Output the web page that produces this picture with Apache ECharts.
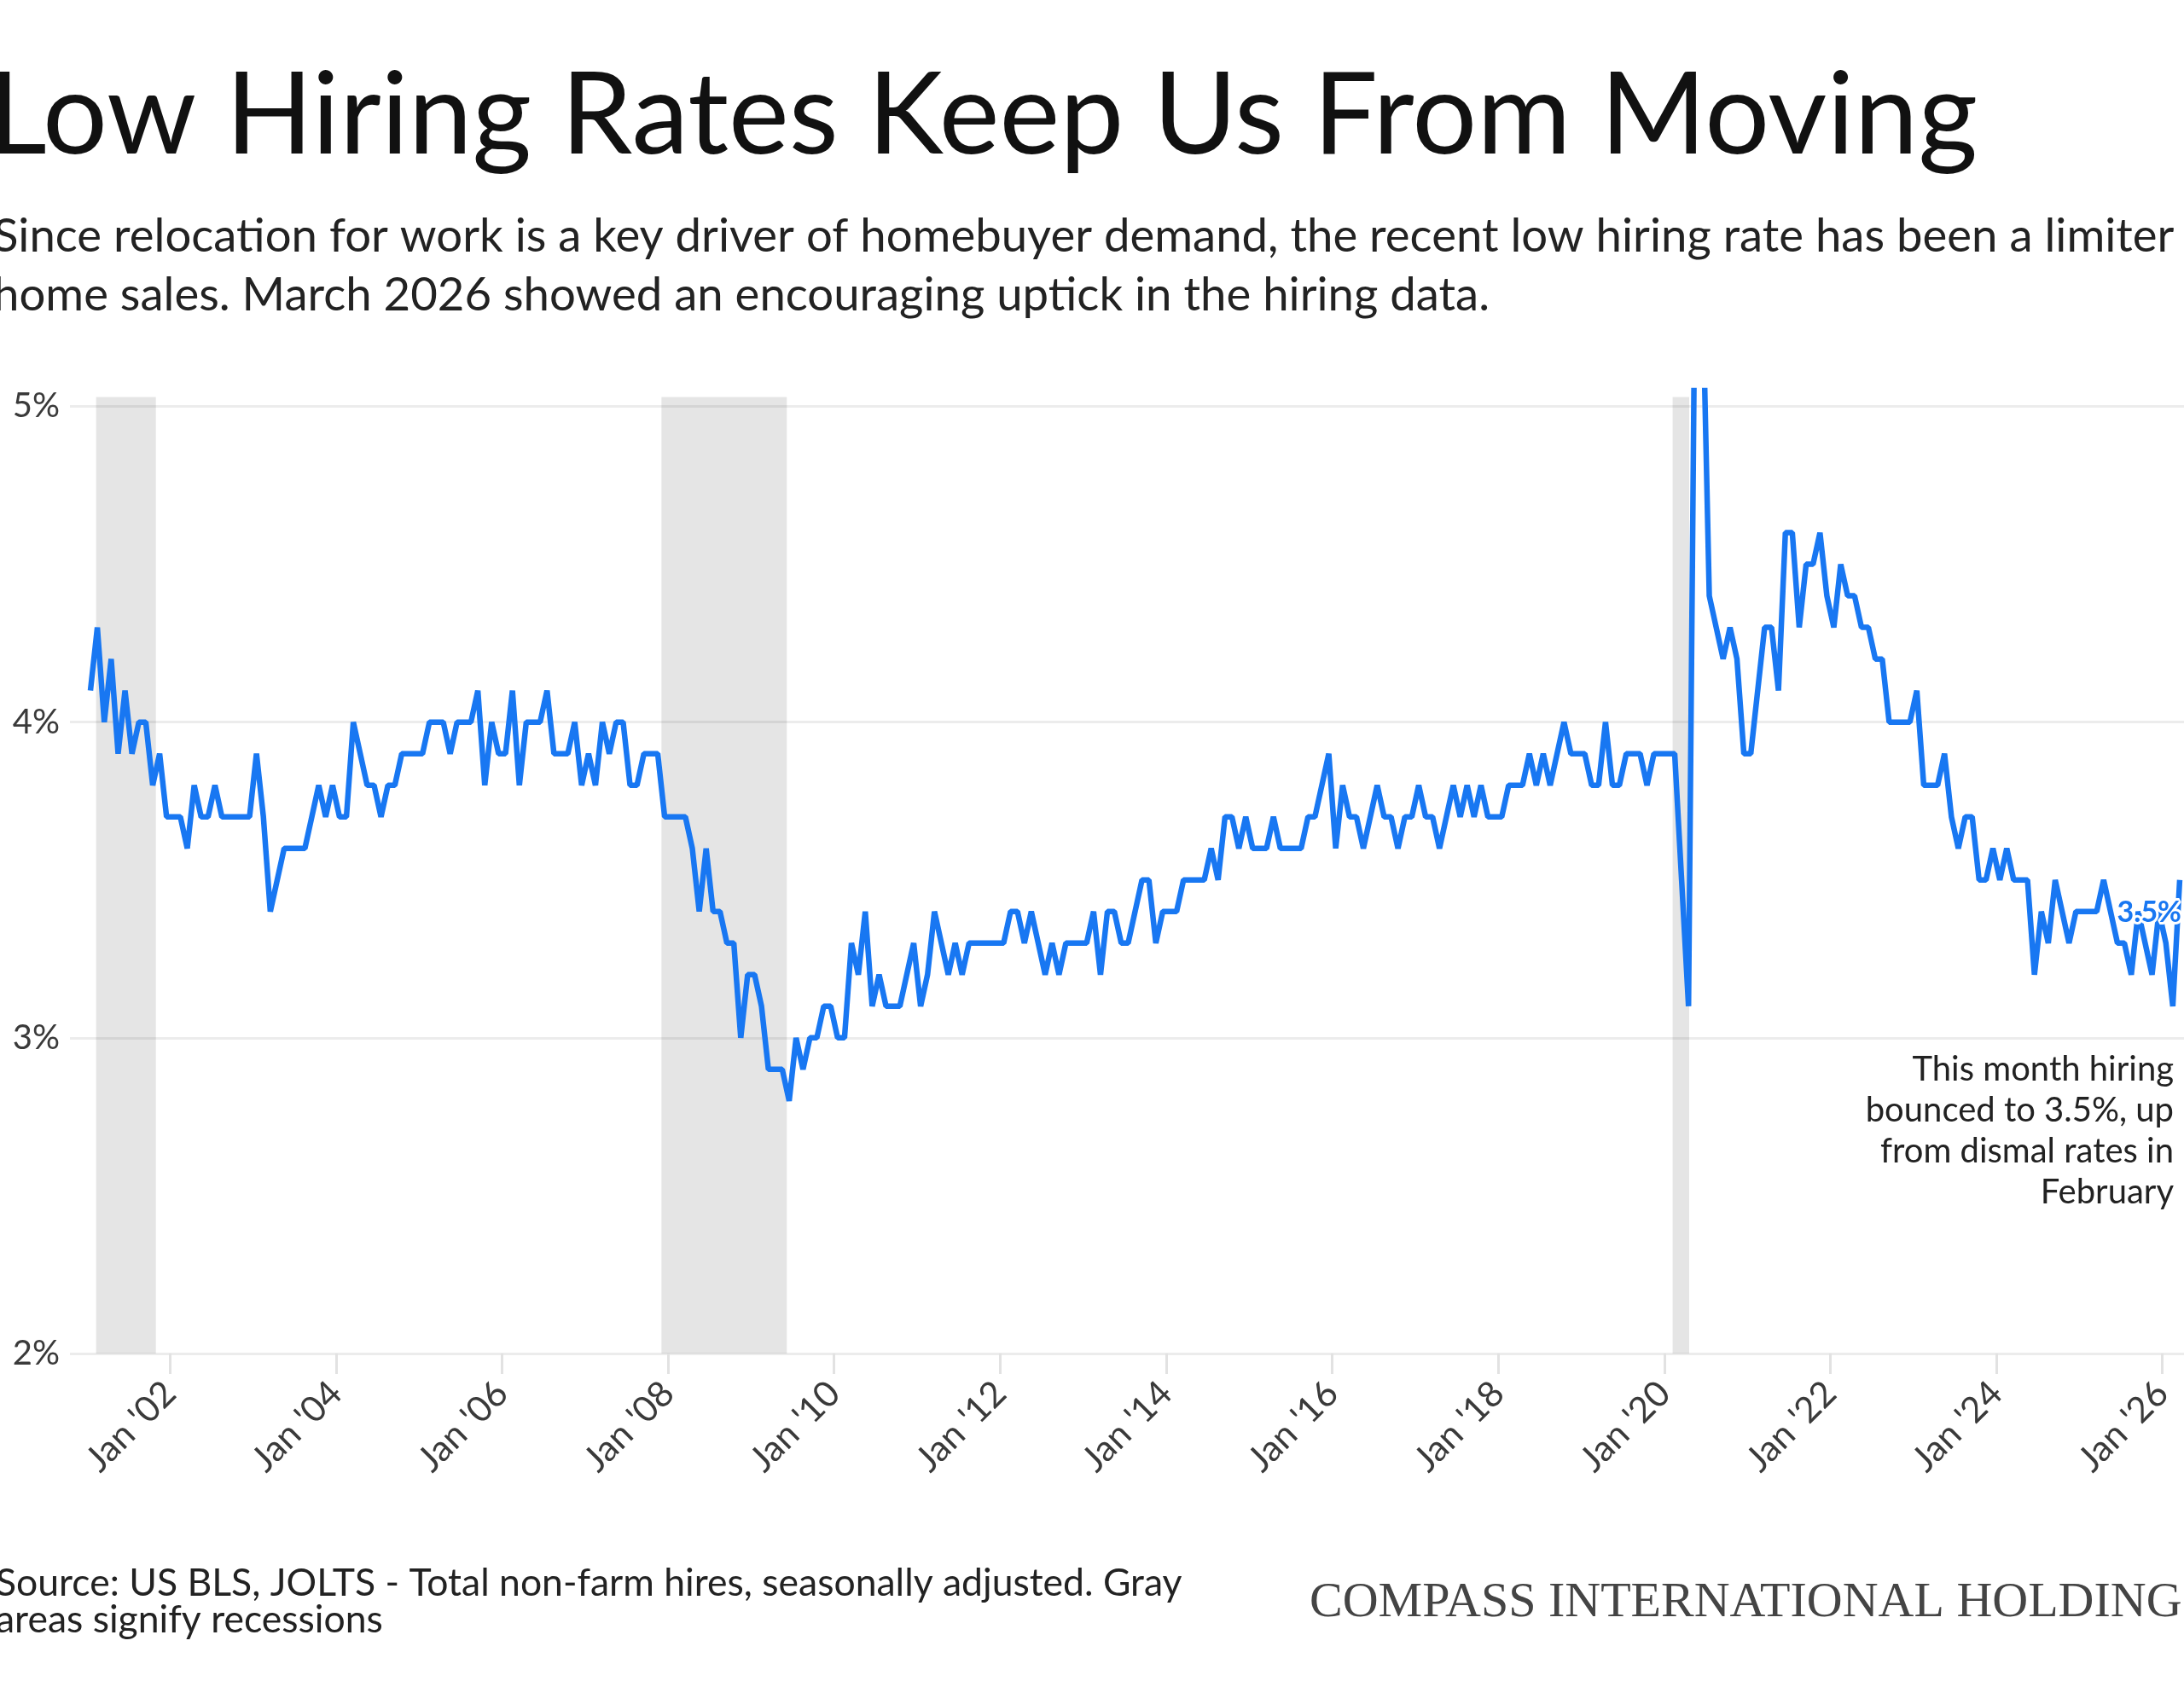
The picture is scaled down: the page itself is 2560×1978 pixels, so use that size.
<!DOCTYPE html>
<html>
<head>
<meta charset="utf-8">
<title>Low Hiring Rates Keep Us From Moving</title>
<script src="https://cdn.jsdelivr.net/npm/echarts@6/dist/echarts.min.js"></script>
<style>
  html, body { margin: 0; padding: 0; background: #fff; }
  #main { width: 2560px; height: 1978px; }
</style>
</head>
<body>
<div id="main"></div>
<script>
// JOLTS total non-farm hires rate (%), one row per year, Jan..Dec
const firstYear = 2001;
const hiresRate = [
  [4.1, 4.3, 4.0, 4.2, 3.9, 4.1, 3.9, 4.0, 4.0, 3.8, 3.9, 3.7], // 2001
  [3.7, 3.7, 3.6, 3.8, 3.7, 3.7, 3.8, 3.7, 3.7, 3.7, 3.7, 3.7], // 2002
  [3.9, 3.7, 3.4, 3.5, 3.6, 3.6, 3.6, 3.6, 3.7, 3.8, 3.7, 3.8], // 2003
  [3.7, 3.7, 4.0, 3.9, 3.8, 3.8, 3.7, 3.8, 3.8, 3.9, 3.9, 3.9], // 2004
  [3.9, 4.0, 4.0, 4.0, 3.9, 4.0, 4.0, 4.0, 4.1, 3.8, 4.0, 3.9], // 2005
  [3.9, 4.1, 3.8, 4.0, 4.0, 4.0, 4.1, 3.9, 3.9, 3.9, 4.0, 3.8], // 2006
  [3.9, 3.8, 4.0, 3.9, 4.0, 4.0, 3.8, 3.8, 3.9, 3.9, 3.9, 3.7], // 2007
  [3.7, 3.7, 3.7, 3.6, 3.4, 3.6, 3.4, 3.4, 3.3, 3.3, 3.0, 3.2], // 2008
  [3.2, 3.1, 2.9, 2.9, 2.9, 2.8, 3.0, 2.9, 3.0, 3.0, 3.1, 3.1], // 2009
  [3.0, 3.0, 3.3, 3.2, 3.4, 3.1, 3.2, 3.1, 3.1, 3.1, 3.2, 3.3], // 2010
  [3.1, 3.2, 3.4, 3.3, 3.2, 3.3, 3.2, 3.3, 3.3, 3.3, 3.3, 3.3], // 2011
  [3.3, 3.4, 3.4, 3.3, 3.4, 3.3, 3.2, 3.3, 3.2, 3.3, 3.3, 3.3], // 2012
  [3.3, 3.4, 3.2, 3.4, 3.4, 3.3, 3.3, 3.4, 3.5, 3.5, 3.3, 3.4], // 2013
  [3.4, 3.4, 3.5, 3.5, 3.5, 3.5, 3.6, 3.5, 3.7, 3.7, 3.6, 3.7], // 2014
  [3.6, 3.6, 3.6, 3.7, 3.6, 3.6, 3.6, 3.6, 3.7, 3.7, 3.8, 3.9], // 2015
  [3.6, 3.8, 3.7, 3.7, 3.6, 3.7, 3.8, 3.7, 3.7, 3.6, 3.7, 3.7], // 2016
  [3.8, 3.7, 3.7, 3.6, 3.7, 3.8, 3.7, 3.8, 3.7, 3.8, 3.7, 3.7], // 2017
  [3.7, 3.8, 3.8, 3.8, 3.9, 3.8, 3.9, 3.8, 3.9, 4.0, 3.9, 3.9], // 2018
  [3.9, 3.8, 3.8, 4.0, 3.8, 3.8, 3.9, 3.9, 3.9, 3.8, 3.9, 3.9], // 2019
  [3.9, 3.9, 3.5, 3.1, 5.6, 5.4, 4.4, 4.3, 4.2, 4.3, 4.2, 3.9], // 2020
  [3.9, 4.1, 4.3, 4.3, 4.1, 4.6, 4.6, 4.3, 4.5, 4.5, 4.6, 4.4], // 2021
  [4.3, 4.5, 4.4, 4.4, 4.3, 4.3, 4.2, 4.2, 4.0, 4.0, 4.0, 4.0], // 2022
  [4.1, 3.8, 3.8, 3.8, 3.9, 3.7, 3.6, 3.7, 3.7, 3.5, 3.5, 3.6], // 2023
  [3.5, 3.6, 3.5, 3.5, 3.5, 3.2, 3.4, 3.3, 3.5, 3.4, 3.3, 3.4], // 2024
  [3.4, 3.4, 3.4, 3.5, 3.4, 3.3, 3.3, 3.2, 3.4, 3.3, 3.2, 3.4], // 2025
  [3.3, 3.1, 3.5]                                                // 2026
];

// gray recession bands, decimal years
const recessions = [[2001.11, 2001.83], [2007.92, 2009.43], [2020.1, 2020.3]];

const yTicks = [2, 3, 4, 5];
const xTickYears = [2002, 2004, 2006, 2008, 2010, 2012, 2014, 2016, 2018, 2020, 2022, 2024, 2026];
const latestLabel = '3.5%';

const titleText = 'Low Hiring Rates Keep Us From Moving';
const subtitleText = 'Since relocation for work is a key driver of homebuyer demand, the recent low hiring rate has been a limiter on\nhome sales. March 2026 showed an encouraging uptick in the hiring data.';
const noteText = 'This month hiring\nbounced to 3.5%, up\nfrom dismal rates in\nFebruary';
const sourceText = 'Source: US BLS, JOLTS - Total non-farm hires, seasonally adjusted. Gray\nareas signify recessions';
const brandText = 'COMPASS INTERNATIONAL HOLDINGS';

// monthly points, placed mid-month
const lineData = [];
hiresRate.forEach((row, i) => {
  row.forEach((v, m) => {
    lineData.push([firstYear + i + (m + 0.5) / 12, v]);
  });
});
const lastPoint = lineData[lineData.length - 1];

const FONT = 'Lato, "Open Sans", sans-serif';

var myChart = echarts.init(document.getElementById('main'));

const option = {
  backgroundColor: '#fff',
  animation: false,
  grid: { left: 82, right: 0, top: 458, bottom: 391 },
  xAxis: {
    type: 'value',
    min: 2000.795,
    max: 2026.26,
    axisLine: { show: false },
    axisTick: {
      show: true,
      customValues: xTickYears,
      length: 24,
      lineStyle: { color: '#e2e2e2', width: 3 }
    },
    axisLabel: {
      customValues: xTickYears,
      rotate: 45,
      margin: 40,
      fontFamily: FONT,
      fontSize: 42,
      color: '#3a3a3a',
      formatter: v => "Jan '" + String(v).slice(2)
    },
    splitLine: { show: false }
  },
  yAxis: {
    type: 'value',
    min: 2,
    max: 5.05,
    axisLine: { show: false },
    axisTick: { show: false, customValues: yTicks },
    axisLabel: {
      customValues: yTicks,
      margin: 12,
      fontFamily: FONT,
      fontSize: 40,
      color: '#3a3a3a',
      formatter: v => v + '%'
    },
    splitLine: { lineStyle: { color: '#ececec', width: 3 } }
  },
  series: [
    {
      type: 'line',
      data: lineData,
      symbol: 'none',
      clip: true,
      z: 3,
      lineStyle: { color: '#1877f2', width: 6.5 },
      markArea: {
        silent: true,
        itemStyle: { color: 'rgba(0,0,0,0.1)' },
        data: recessions.map(r => [{ xAxis: r[0], yAxis: 2 }, { xAxis: r[1], yAxis: 5.03 }])
      },
      markPoint: {
        silent: true,
        symbol: 'circle',
        symbolSize: 0,
        data: [{
          coord: lastPoint,
          label: {
            show: true,
            position: 'left',
            distance: 0,
            offset: [2, 38],
            formatter: latestLabel,
            fontFamily: FONT,
            fontSize: 34,
            fontWeight: 'bold',
            color: '#1877f2',
            textBorderColor: '#fff',
            textBorderWidth: 6
          }
        }]
      }
    }
  ],
  graphic: [
    {
      type: 'text', x: -14, y: 70,
      style: { text: titleText, fontFamily: FONT, fontSize: 134, fill: '#111', verticalAlign: 'top' }
    },
    {
      type: 'text', x: -8, y: 243,
      style: { text: subtitleText, fontFamily: FONT, fontSize: 54.5, lineHeight: 69, fill: '#222', verticalAlign: 'top' }
    },
    {
      type: 'text', x: 2548, y: 1230,
      style: { text: noteText, fontFamily: FONT, fontSize: 40, lineHeight: 48, fill: '#222', align: 'right', verticalAlign: 'top' }
    },
    {
      type: 'text', x: -5, y: 1835,
      style: { text: sourceText, fontFamily: FONT, fontSize: 44.5, lineHeight: 43, fill: '#222', verticalAlign: 'top' }
    },
    {
      type: 'text', x: 1535, y: 1851,
      style: { text: brandText, fontFamily: '"Liberation Serif", serif', fontSize: 58, fill: '#444', verticalAlign: 'top' }
    }
  ]
};

myChart.setOption(option);
</script>
</body>
</html>
